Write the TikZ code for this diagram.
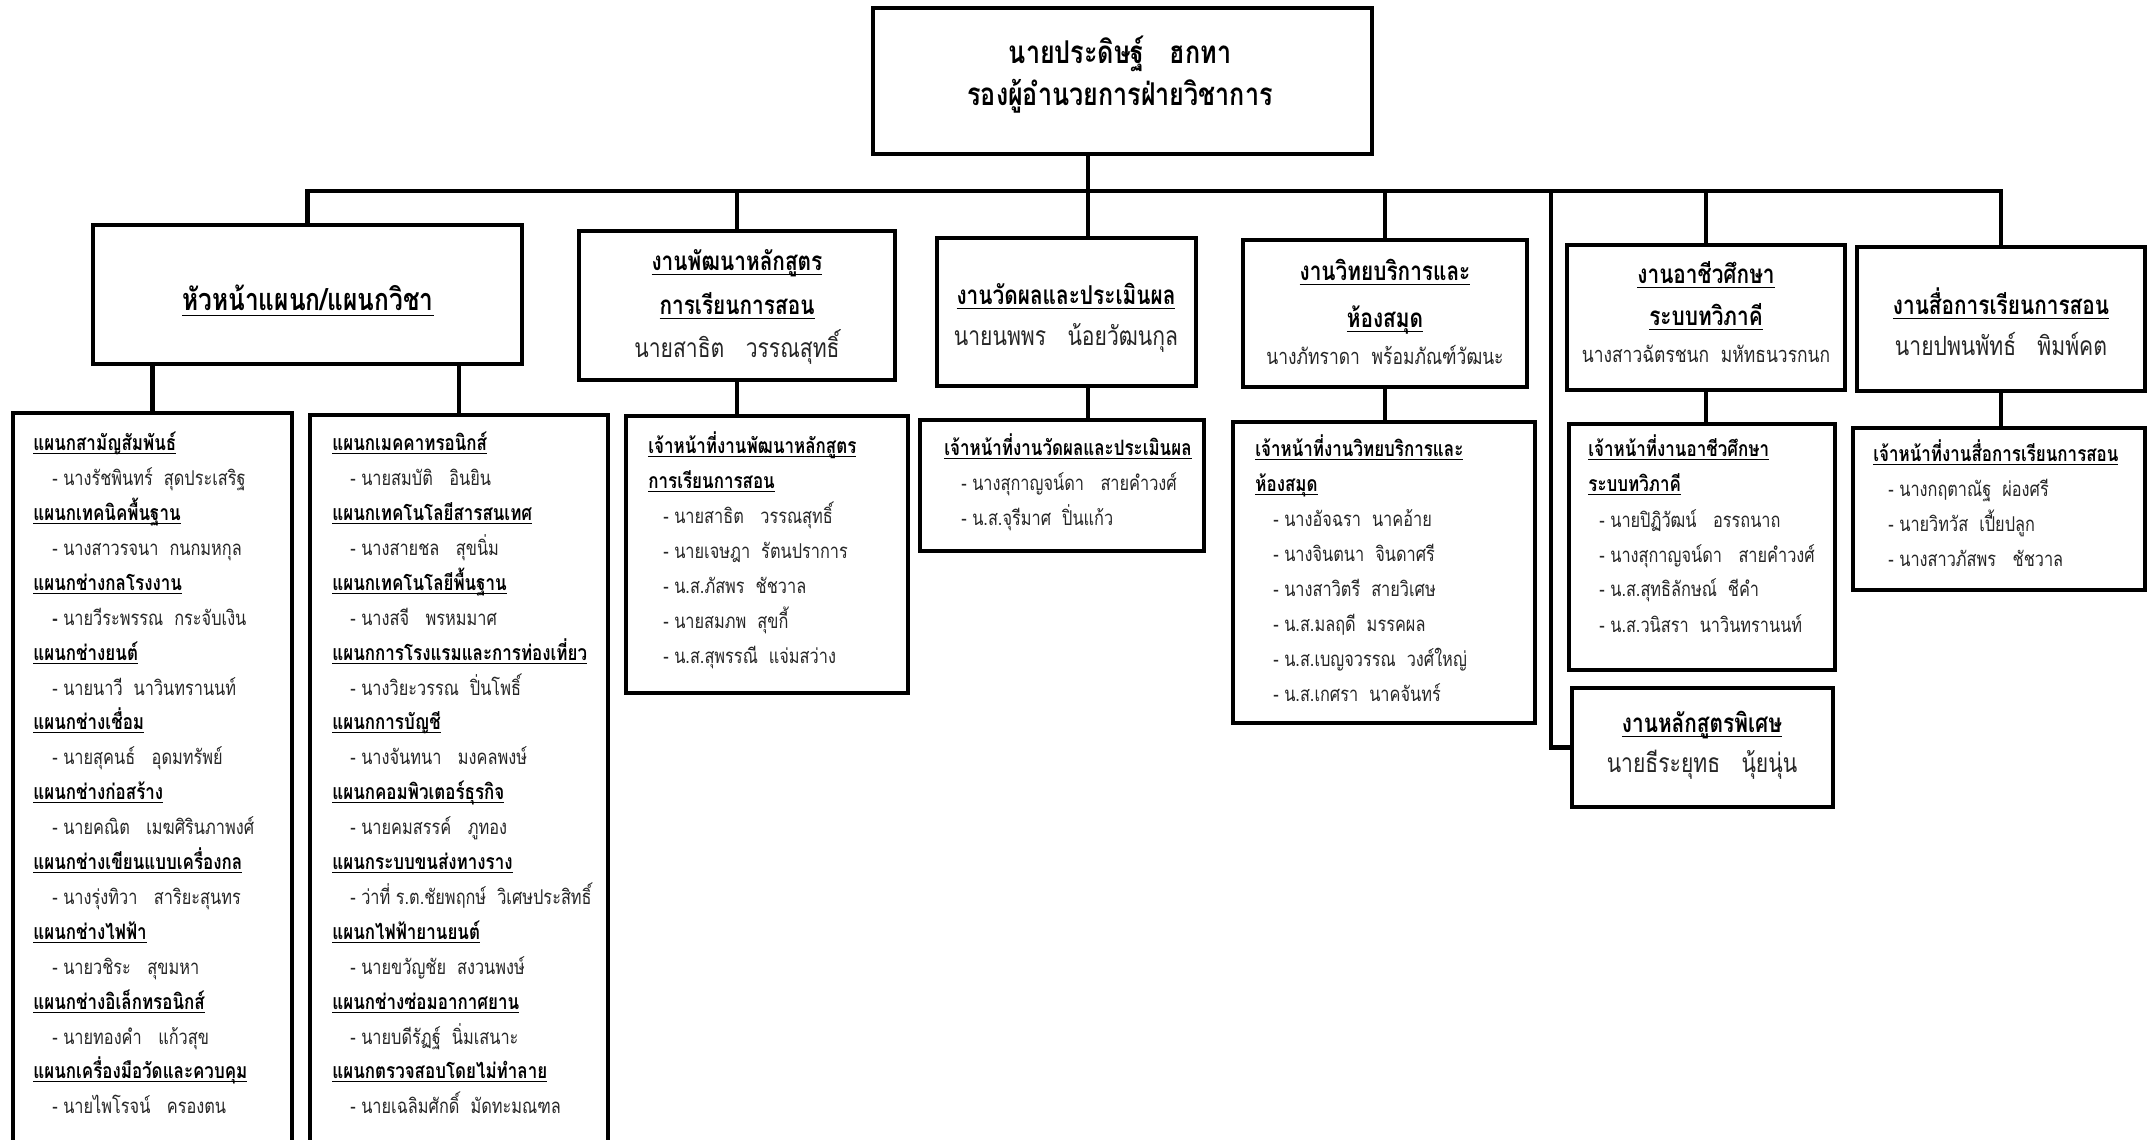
\documentclass[tikz,border=0pt]{standalone}
\usepackage{fontspec}
\setmainfont{Loma}[Script=Thai, FakeStretch=0.8]
\usetikzlibrary{fit}

\def \lineWidth {2.3pt}
\newcommand\ulined[1]{\setbox0\hbox{#1}\rlap{\rule[-0.2em]{\wd0}{0.8pt}}\box0}
\newcommand\topfont{\fontsize{15.7}{19}\selectfont\bfseries}
\newcommand\bigheadfont{\fontsize{15.3}{18}\selectfont\bfseries}
\newcommand\boxheadfont{\fontsize{13}{16}\selectfont\bfseries}
\newcommand\personfont{\fontsize{13.2}{16}\selectfont}
\newcommand\smallpersonfont{\fontsize{10.9}{13}\selectfont}
\newcommand\deptfont{\fontsize{10.6}{13}\selectfont\bfseries}
\newcommand\memberfont{\fontsize{10.2}{13}\selectfont}

\tikzset{
  box/.style={draw, line width=\lineWidth, inner sep=0pt, fit={#1}},
  conn/.style={line width=\lineWidth},
  toptext/.style={anchor=base, inner sep=0pt, font=\topfont},
  boxhead/.style={anchor=base, inner sep=0pt, font=\boxheadfont},
  person/.style={anchor=base, inner sep=0pt, text=black!85, font=\personfont},
  dept/.style={anchor=base west, inner sep=0pt, font=\deptfont},
  member/.style={anchor=base west, inner sep=0pt, text=black!85, font=\memberfont},
}

\begin{document}
\begin{tikzpicture}[x=0.5pt, y=-0.5pt]
            \clip (0,0) rectangle (2152,1140);
            \fill[white] (0,0) rectangle (2152,1140);

            \node[box={(873,8) (1372,154)}] (top) {};
            \node[toptext] (topName) at (1120,63) {นายประดิษฐ์~~~ฮกทา};
            \node[toptext] (topRole) at (1120,105) {รองผู้อำนวยการฝ่ายวิชาการ};

            \node[box={(93,225) (522,364)}] (heads) {};
            \node[boxhead, font=\bigheadfont] (headsTitle) at (308,310) {\ulined{หัวหน้าแผนก/แผนกวิชา}};

            \node[box={(13,413) (292,1170)}] (deptsA) {};
            \node[dept] (deptA1) at (33,450) {\ulined{แผนกสามัญสัมพันธ์}};
            \node[member] (memberA1) at (52,485) {- นางรัชพินทร์~~สุดประเสริฐ};
            \node[dept] (deptA2) at (33,520) {\ulined{แผนกเทคนิคพื้นฐาน}};
            \node[member] (memberA2) at (52,555) {- นางสาวรจนา~~กนกมหกุล};
            \node[dept] (deptA3) at (33,590) {\ulined{แผนกช่างกลโรงงาน}};
            \node[member] (memberA3) at (52,625) {\textbf{-} นายวีระพรรณ~~กระจับเงิน};
            \node[dept] (deptA4) at (33,660) {\ulined{แผนกช่างยนต์}};
            \node[member] (memberA4) at (52,695) {- นายนาวี~~นาวินทรานนท์};
            \node[dept] (deptA5) at (33,729) {\ulined{แผนกช่างเชื่อม}};
            \node[member] (memberA5) at (52,764) {- นายสุคนธ์~~~อุดมทรัพย์};
            \node[dept] (deptA6) at (33,799) {\ulined{แผนกช่างก่อสร้าง}};
            \node[member] (memberA6) at (52,834) {- นายคณิต~~~เมฆศิรินภาพงศ์};
            \node[dept] (deptA7) at (33,869) {\ulined{แผนกช่างเขียนแบบเครื่องกล}};
            \node[member] (memberA7) at (52,904) {- นางรุ่งทิวา~~~สาริยะสุนทร};
            \node[dept] (deptA8) at (33,939) {\ulined{แผนกช่างไฟฟ้า}};
            \node[member] (memberA8) at (52,974) {- นายวชิระ~~~สุขมหา};
            \node[dept] (deptA9) at (33,1009) {\ulined{แผนกช่างอิเล็กทรอนิกส์}};
            \node[member] (memberA9) at (52,1044) {- นายทองคำ~~~แก้วสุข};
            \node[dept] (deptA10) at (33,1078) {\ulined{แผนกเครื่องมือวัดและควบคุม}};
            \node[member] (memberA10) at (52,1113) {- นายไพโรจน์~~~ครองตน};

            \node[box={(310,415) (608,1170)}] (deptsB) {};
            \node[dept] (deptB1) at (332,450) {\ulined{แผนกเมคคาทรอนิกส์}};
            \node[member] (memberB1) at (350,485) {- นายสมบัติ~~~อินยิน};
            \node[dept] (deptB2) at (332,520) {\ulined{แผนกเทคโนโลยีสารสนเทศ}};
            \node[member] (memberB2) at (350,555) {- นางสายชล~~~สุขนิ่ม};
            \node[dept] (deptB3) at (332,590) {\ulined{แผนกเทคโนโลยีพื้นฐาน}};
            \node[member] (memberB3) at (350,625) {- นางสจี~~~พรหมมาศ};
            \node[dept] (deptB4) at (332,660) {\ulined{แผนกการโรงแรมและการท่องเที่ยว}};
            \node[member] (memberB4) at (350,695) {- นางวิยะวรรณ~~ปิ่นโพธิ์};
            \node[dept] (deptB5) at (332,729) {\ulined{แผนกการบัญชี}};
            \node[member] (memberB5) at (350,764) {- นางจันทนา~~~มงคลพงษ์};
            \node[dept] (deptB6) at (332,799) {\ulined{แผนกคอมพิวเตอร์ธุรกิจ}};
            \node[member] (memberB6) at (350,834) {- นายคมสรรค์~~~ภูทอง};
            \node[dept] (deptB7) at (332,869) {\ulined{แผนกระบบขนส่งทางราง}};
            \node[member] (memberB7) at (350,904) {- ว่าที่ ร.ต.ชัยพฤกษ์~~วิเศษประสิทธิ์};
            \node[dept] (deptB8) at (332,939) {\ulined{แผนกไฟฟ้ายานยนต์}};
            \node[member] (memberB8) at (350,974) {- นายขวัญชัย~~สงวนพงษ์};
            \node[dept] (deptB9) at (332,1009) {\ulined{แผนกช่างซ่อมอากาศยาน}};
            \node[member] (memberB9) at (350,1044) {- นายบดีรัฏฐ์~~นิ่มเสนาะ};
            \node[dept] (deptB10) at (332,1078) {\ulined{แผนกตรวจสอบโดยไม่ทำลาย}};
            \node[member] (memberB10) at (350,1113) {- นายเฉลิมศักดิ์~~มัดทะมณฑล};

            \node[box={(579,231) (895,380)}] (curric) {};
            \node[boxhead] (curricTitleA) at (737,270) {\ulined{งานพัฒนาหลักสูตร}};
            \node[boxhead] (curricTitleB) at (737,314) {\ulined{การเรียนการสอน}};
            \node[person] (curricHead) at (737,357) {นายสาธิต~~~วรรณสุทธิ์};

            \node[box={(626,416) (908,693)}] (curricStaff) {};
            \node[dept] (curricStaffA) at (648,453) {\ulined{เจ้าหน้าที่งานพัฒนาหลักสูตร}};
            \node[dept] (curricStaffB) at (648,488) {\ulined{การเรียนการสอน}};
            \node[member] (curric1) at (663,523) {- นายสาธิต~~~วรรณสุทธิ์};
            \node[member] (curric2) at (663,558) {- นายเจษฎา~~รัตนปราการ};
            \node[member] (curric3) at (663,593) {- น.ส.ภัสพร~~ชัชวาล};
            \node[member] (curric4) at (663,628) {- นายสมภพ~~สุขกี้};
            \node[member] (curric5) at (663,663) {- น.ส.สุพรรณี~~แจ่มสว่าง};

            \node[box={(937,238) (1196,386)}] (eval) {};
            \node[boxhead] (evalTitle) at (1066,304) {\ulined{งานวัดผลและประเมินผล}};
            \node[person] (evalHead) at (1066,345) {นายนพพร~~~น้อยวัฒนกุล};

            \node[box={(920,420) (1204,551)}] (evalStaff) {};
            \node[dept] (evalStaffA) at (944,455) {\ulined{เจ้าหน้าที่งานวัดผลและประเมินผล}};
            \node[member] (eval1) at (961,490) {- นางสุกาญจน์ดา~~~สายคำวงศ์};
            \node[member] (eval2) at (961,525) {- น.ส.จุรีมาศ~~ปิ่นแก้ว};

            \node[box={(1243,240) (1527,387)}] (library) {};
            \node[boxhead] (libraryTitleA) at (1385,280) {\ulined{งานวิทยบริการและ}};
            \node[boxhead] (libraryTitleB) at (1385,327) {\ulined{ห้องสมุด}};
            \node[person, font=\smallpersonfont] (libraryHead) at (1385,364) {นางภัทราดา~~พร้อมภัณฑ์วัฒนะ};

            \node[box={(1233,422) (1535,723)}] (libraryStaff) {};
            \node[dept] (libraryStaffA) at (1255,456) {\ulined{เจ้าหน้าที่งานวิทยบริการและ}};
            \node[dept] (libraryStaffB) at (1255,491) {\ulined{ห้องสมุด}};
            \node[member] (library1) at (1273,526) {- นางอัจฉรา~~นาคอ้าย};
            \node[member] (library2) at (1273,561) {- นางจินตนา~~จินดาศรี};
            \node[member] (library3) at (1273,596) {- นางสาวิตรี~~สายวิเศษ};
            \node[member] (library4) at (1273,631) {- น.ส.มลฤดี~~มรรคผล};
            \node[member] (library5) at (1273,666) {- น.ส.เบญจวรรณ~~วงศ์ใหญ่};
            \node[member] (library6) at (1273,701) {- น.ส.เกศรา~~นาคจันทร์};

            \node[box={(1567,245) (1845,390)}] (dual) {};
            \node[boxhead] (dualTitleA) at (1706,283) {\ulined{งานอาชีวศึกษา}};
            \node[boxhead] (dualTitleB) at (1706,325) {\ulined{ระบบทวิภาคี}};
            \node[person, font=\smallpersonfont] (dualHead) at (1706,362) {นางสาวฉัตรชนก~~มหัทธนวรกนก};

            \node[box={(1569,424) (1835,670)}] (dualStaff) {};
            \node[dept] (dualStaffA) at (1588,456) {\ulined{เจ้าหน้าที่งานอาชีวศึกษา}};
            \node[dept] (dualStaffB) at (1588,491) {\ulined{ระบบทวิภาคี}};
            \node[member] (dual1) at (1599,527) {- นายปิฏิวัฒน์~~~อรรถนาถ};
            \node[member] (dual2) at (1599,562) {- นางสุกาญจน์ดา~~~สายคำวงศ์};
            \node[member] (dual3) at (1599,596) {- น.ส.สุทธิลักษณ์~~ชีคำ};
            \node[member] (dual4) at (1599,632) {- น.ส.วนิสรา~~นาวินทรานนท์};

            \node[box={(1857,247) (2145,391)}] (media) {};
            \node[boxhead] (mediaTitle) at (2001,314) {\ulined{งานสื่อการเรียนการสอน}};
            \node[person] (mediaHead) at (2001,355) {นายปพนพัทธ์~~~พิมพ์คต};

            \node[box={(1853,428) (2145,590)}] (mediaStaff) {};
            \node[dept] (mediaStaffA) at (1873,461) {\ulined{เจ้าหน้าที่งานสื่อการเรียนการสอน}};
            \node[member] (media1) at (1888,496) {- นางกฤตาณัฐ~~ผ่องศรี};
            \node[member] (media2) at (1888,531) {- นายวิทวัส~~เปี้ยปลูก};
            \node[member] (media3) at (1888,566) {- นางสาวภัสพร~~~ชัชวาล};

            \node[box={(1572,688) (1833,807)}] (special) {};
            \node[boxhead] (specialTitle) at (1702,732) {\ulined{งานหลักสูตรพิเศษ}};
            \node[person] (specialHead) at (1702,772) {นายธีระยุทธ~~~นุ้ยนุ่น};

            \coordinate (bus) at (0,191);
            \coordinate (stem) at (1088,0);
            \coordinate (specialDrop) at (1551,191);
            \draw[conn] (heads.north) |- (media.north |- bus) -- (media.north);
            \draw[conn] (top.south -| stem) -- (eval.north -| stem);
            \draw[conn] (curric.north |- bus) -- (curric.north);
            \draw[conn] (library.north |- bus) -- (library.north);
            \draw[conn] (dual.north |- bus) -- (dual.north);
            \draw[conn] (specialDrop) |- (special.west);
            \draw[conn] (deptsA.north) -- (deptsA.north |- heads.south);
            \draw[conn] (deptsB.north) -- (deptsB.north |- heads.south);
            \draw[conn] (curric.south) -- (curric.south |- curricStaff.north);
            \draw[conn] (eval.south -| stem) -- (evalStaff.north -| stem);
            \draw[conn] (library.south) -- (library.south |- libraryStaff.north);
            \draw[conn] (dual.south) -- (dual.south |- dualStaff.north);
            \draw[conn] (media.south) -- (media.south |- mediaStaff.north);
         \end{tikzpicture}
\end{document}
